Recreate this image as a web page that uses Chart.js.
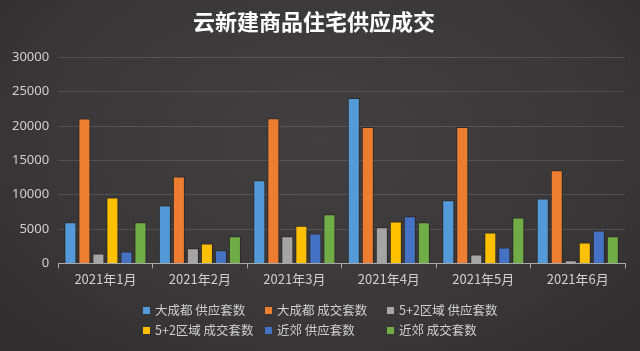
<!DOCTYPE html>
<html><head><meta charset="utf-8">
<script src="https://cdn.jsdelivr.net/npm/chart.js@4/dist/chart.umd.min.js"></script>
<style>
html,body{margin:0;padding:0;}
body{width:640px;height:351px;overflow:hidden;background:radial-gradient(ellipse at 50% 40%,#413f3f 0%,#393737 60%,#2f2d2d 100%);position:relative;font-family:"Noto Sans CJK SC","Noto Sans",sans-serif;}
#wrap{position:absolute;left:0;top:0;width:640px;height:351px;}
#legend{position:absolute;left:0;top:0;width:640px;height:351px;pointer-events:none;}
.li{position:absolute;font-size:12.5px;color:#cfcfcf;white-space:nowrap;line-height:14px;}
.li i{display:inline-block;width:7px;height:7px;margin-right:5px;vertical-align:1px;}
</style></head>
<body>
<div id="wrap"><canvas id="c" width="640" height="351"></canvas></div>
<div id="legend"></div>
<script>
const categories = ["2021年1月","2021年2月","2021年3月","2021年4月","2021年5月","2021年6月"];
const seriesNames = ["大成都 供应套数","大成都 成交套数","5+2区域 供应套数","5+2区域 成交套数","近郊 供应套数","近郊 成交套数"];
const bigSupply   = [6000, 8450, 12100, 24100, 9200, 9450];
const bigDeal     = [21100, 12650, 21150, 19850, 19850, 13550];
const r52Supply   = [1450, 2200, 3950, 5250, 1300, 450];
const r52Deal     = [9600, 2900, 5500, 6100, 4500, 3050];
const nearSupply  = [1750, 1900, 4350, 6850, 2300, 4800];
const nearDeal    = [6000, 3950, 7150, 6000, 6700, 3950];
const yTicks = [0,5000,10000,15000,20000,25000,30000];
const colors = ["#549ad9","#ed7d31","#a5a5a5","#ffc000","#4472c4","#70ad47"];
const seriesValues = [bigSupply,bigDeal,r52Supply,r52Deal,nearSupply,nearDeal];

const datasets = seriesNames.map((n,i)=>({
  label:n, data:seriesValues[i], backgroundColor:colors[i],
  borderColor:'rgba(30,25,20,0.55)', borderWidth:{left:1,right:1,top:1,bottom:0},
  categoryPercentage:0.89, barPercentage:0.86
}));

const chart = new Chart(document.getElementById('c'),{
  type:'bar',
  data:{labels:categories,datasets},
  options:{
    responsive:false, animation:false,
    layout:{padding:{left:3,right:15,top:0,bottom:61}},
    plugins:{
      legend:{display:false},
      tooltip:{enabled:false},
      title:{display:true,text:"云新建商品住宅供应成交",color:'#ffffff',
        font:{family:"'Noto Sans CJK SC'",size:22,weight:'bold'},padding:{top:8,bottom:23}}
    },
    scales:{
      x:{
        grid:{display:true,drawOnChartArea:false,drawTicks:true,tickLength:5,color:'#a8a8a8',offset:true},
        border:{display:true,color:'#a8a8a8',width:1},
        ticks:{color:'#d0d0d0',font:{family:"'Noto Sans CJK SC'",size:13},padding:3}
      },
      y:{
        min:0,max:30000,
        afterBuildTicks:(s)=>{s.ticks=yTicks.map(v=>({value:v}));},
        grid:{color:'rgba(255,255,255,0.13)',drawTicks:false},
        border:{display:false},
        ticks:{color:'#d0d0d0',font:{family:"'Noto Sans'",size:13},padding:9,callback:(v)=>String(v)}
      }
    }
  }
});

const lg = document.getElementById('legend');
const pos = [[143,303],[265,303],[387,303],[143,323],[265,323],[387,323]];
seriesNames.forEach((n,i)=>{
  const d=document.createElement('div');d.className='li';
  d.style.left=pos[i][0]+'px';d.style.top=pos[i][1]+'px';
  d.innerHTML='<i style="background:'+colors[i]+'"></i>'+n;
  lg.appendChild(d);
});
</script>
</body></html>
